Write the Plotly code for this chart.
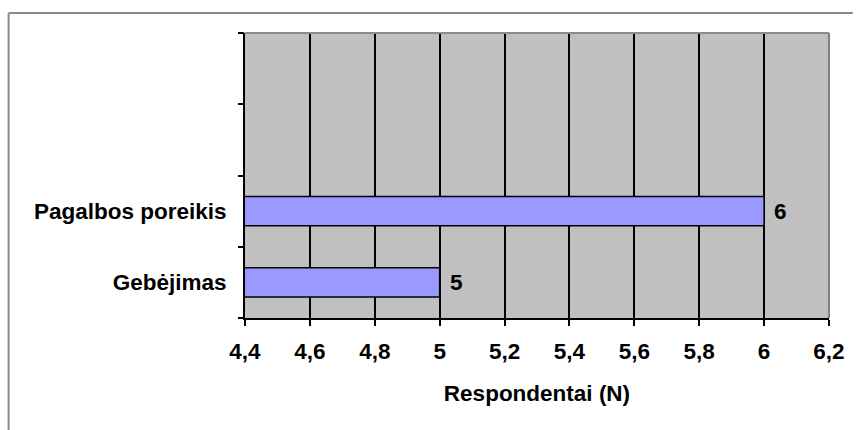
import plotly.graph_objects as go

# Chart data
categories = ["Gebėjimas", "Pagalbos poreikis"]
values = [5, 6]
x_ticks = [4.4, 4.6, 4.8, 5.0, 5.2, 5.4, 5.6, 5.8, 6.0, 6.2]
x_title = "Respondentai (N)"

W, H = 857, 430
L, R, T, B = 245, 24, 33, 112
n_slots = 4  # category slots on the value axis (two upper ones empty)

FONT = dict(family="Liberation Sans, Arial, sans-serif", size=22.5, color="black", weight="bold")

positions = list(range(len(categories)))
tick_text = [f"{v:g}".replace(".", ",") for v in x_ticks]

fig = go.Figure()
fig.add_trace(go.Bar(
    x=values,
    y=positions,
    orientation="h",
    marker=dict(color="#9999FF", line=dict(color="black", width=1.5)),
    hoverinfo="skip",
    showlegend=False,
    cliponaxis=True,
))

# value labels to the right of each bar
for p, v in zip(positions, values):
    fig.add_annotation(
        x=v, y=p, xref="x", yref="y",
        text=f"{v:g}", showarrow=False,
        xanchor="left", yanchor="middle", xshift=8,
        font=FONT,
    )

y_range = [-0.5, n_slots - 0.5]
boundaries = [i - 0.5 for i in range(n_slots + 1)]

fig.update_layout(
    width=W, height=H,
    margin=dict(l=L, r=R, t=T, b=B, pad=0),
    paper_bgcolor="white",
    plot_bgcolor="#C0C0C0",
    font=FONT,
    bargap=0.59,
    xaxis=dict(
        range=[x_ticks[0], x_ticks[-1]],
        tickvals=x_ticks, ticktext=tick_text,
        showgrid=True, gridcolor="black", gridwidth=1.5,
        showline=True, linecolor="black", linewidth=2,
        ticks="outside", ticklen=6, tickwidth=2, tickcolor="black",
        ticklabelstandoff=6,
        zeroline=False,
        title=dict(text=x_title, font=FONT, standoff=22),
        fixedrange=True,
    ),
    yaxis=dict(
        range=y_range,
        tickvals=positions, ticktext=categories,
        ticks="", showgrid=False, zeroline=False,
        showline=True, linecolor="black", linewidth=2,
        ticklabelstandoff=12,
        fixedrange=True,
    ),
    yaxis2=dict(
        range=y_range, overlaying="y", side="left", anchor="x",
        tickvals=boundaries, showticklabels=False,
        ticks="outside", ticklen=6, tickwidth=2, tickcolor="black",
        showgrid=False, zeroline=False, showline=False,
        fixedrange=True,
    ),
)

# invisible trace so the tick axis is rendered
fig.add_trace(go.Scatter(x=[x_ticks[0]], y=[y_range[0]], yaxis="y2", mode="markers",
                         marker=dict(opacity=0), hoverinfo="skip", showlegend=False))

# plot-area border on the top and right edges
fig.add_shape(type="line", xref="paper", yref="paper", x0=0, x1=1, y0=1, y1=1,
              line=dict(color="#8C8C8C", width=2), layer="above")
fig.add_shape(type="line", xref="paper", yref="paper", x0=1, x1=1, y0=0, y1=1,
              line=dict(color="#808080", width=2), layer="above")

# chart frame (top and left edges)
pw, ph = W - L - R, H - T - B
fx = (7 - L) / pw
fy = (ph + T - 13) / ph
fig.add_shape(type="line", xref="paper", yref="paper", x0=fx, x1=(W - L) / pw, y0=fy, y1=fy,
              line=dict(color="#8A8A8A", width=2), layer="above")
fig.add_shape(type="line", xref="paper", yref="paper", x0=fx, x1=fx, y0=-B / ph, y1=fy,
              line=dict(color="#8A8A8A", width=2), layer="above")

fig.write_html("out.html")
